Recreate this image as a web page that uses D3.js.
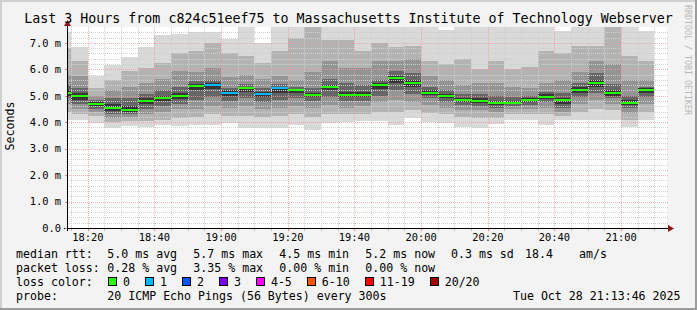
<!DOCTYPE html>
<html><head><meta charset="utf-8">
<script src="https://cdn.jsdelivr.net/npm/d3@7"></script>
<style>
html,body{margin:0;padding:0;background:#f3f3f3;}
svg{display:block;font-family:"DejaVu Sans Mono",monospace;}
</style></head>
<body><svg id="c" width="697" height="310"></svg>
<script>
// ---- data ----
const titleText = "Last 3 Hours from c824c51eef75 to Massachusetts Institute of Technology Webserver";
const startTime = "18:13:46", endTime = "21:13:46";
const barEnds = ["18:15","18:20","18:25","18:30","18:35","18:40","18:45","18:50","18:55","19:00",
  "19:05","19:10","19:15","19:20","19:25","19:30","19:35","19:40","19:45","19:50",
  "19:55","20:00","20:05","20:10","20:15","20:20","20:25","20:30","20:35","20:40",
  "20:45","20:50","20:55","21:00","21:05","21:10"];
// median rtt (ms)
const medians = [5.10,4.98,4.69,4.54,4.46,4.80,4.92,4.98,5.36,5.41,
  5.11,5.29,5.06,5.29,5.21,5.02,5.32,5.02,5.02,5.40,
  5.67,5.50,5.11,4.98,4.84,4.80,4.73,4.73,4.84,4.96,
  4.84,5.22,5.50,5.11,4.73,5.22];
// lost pings per step (of 20)
const losses = [0,0,0,0,0,0,0,0,0,1, 1,0,1,1,0,0,0,0,0,0, 0,0,0,0,0,0,0,0,0,0, 0,0,0,0,0,0];
// smoke: upper ping bounds, outer -> inner (ms)
const smokeHi = [
 [7.4,6.8,5.8,5.4,5.2],[6.86,6.3,5.75,5.3,5.1],[5.75,5.3,5.0,4.85,4.75],[6.15,5.6,5.2,4.9,4.7],
 [6.45,5.95,5.35,4.9,4.6],[6.85,6.05,5.5,5.05,4.9],[7.28,6.25,5.65,5.2,5.0],[7.35,6.6,5.95,5.35,5.1],
 [7.4,6.7,5.9,5.55,5.45],[7.4,7.0,6.05,5.6,5.5],[7.15,6.6,5.7,5.3,5.2],[7.6,6.5,5.8,5.45,5.35],
 [6.98,6.25,5.65,5.3,5.15],[7.6,6.7,5.75,5.45,5.35],[7.6,7.2,5.6,5.35,5.27],[7.9,7.7,5.9,5.3,5.12],
 [7.6,7.1,6.3,5.65,5.42],[7.6,7.1,6.05,5.5,5.15],[7.6,6.7,6.05,5.4,5.15],[7.6,7.0,6.3,5.6,5.48],
 [7.6,6.85,6.3,5.95,5.75],[7.6,6.9,6.4,5.85,5.6],[7.6,6.3,5.75,5.35,5.2],[7.5,6.2,5.6,5.2,5.07],
 [7.6,6.4,5.4,5.05,4.92],[7.6,6.0,5.5,5.05,4.9],[7.6,6.3,5.5,5.0,4.82],[7.6,6.0,5.35,4.95,4.82],
 [7.6,6.1,5.3,5.0,4.92],[7.6,6.7,5.5,5.15,5.05],[7.45,6.6,5.6,5.1,4.93],[7.6,6.9,5.9,5.5,5.32],
 [7.6,6.9,6.3,5.85,5.6],[7.9,7.7,6.2,5.45,5.22],[7.6,6.5,5.6,5.0,4.83],[7.45,6.3,5.6,5.35,5.28]];
// smoke: lower ping bounds, outer -> inner (ms)
const smokeLo = [
 [4.1,4.4,4.7,4.9,5.0],[4.1,4.3,4.5,4.7,4.85],[3.97,4.25,4.4,4.5,4.6],[3.8,4.0,4.15,4.3,4.42],
 [3.87,4.05,4.2,4.3,4.38],[3.83,4.05,4.3,4.5,4.68],[3.9,4.1,4.4,4.6,4.8],[3.87,4.15,4.5,4.7,4.88],
 [3.9,4.2,4.5,4.85,5.2],[3.9,4.3,4.6,4.95,5.25],[3.97,4.25,4.55,4.8,5.0],[3.8,4.25,4.6,4.9,5.15],
 [3.8,4.2,4.5,4.75,4.95],[3.8,4.25,4.55,4.85,5.1],[3.9,4.3,4.6,4.9,5.1],[3.72,4.2,4.55,4.8,4.95],
 [3.97,4.3,4.65,4.95,5.2],[4.0,4.3,4.55,4.8,4.95],[4.05,4.3,4.6,4.8,4.95],[4.05,4.4,4.75,5.0,5.25],
 [3.9,4.4,4.85,5.2,5.5],[4.15,4.45,4.75,5.05,5.35],[4.0,4.35,4.65,4.9,5.02],[3.97,4.3,4.55,4.75,4.9],
 [3.82,4.2,4.45,4.65,4.77],[3.77,4.15,4.45,4.62,4.73],[3.95,4.15,4.4,4.55,4.66],[4.1,4.3,4.5,4.6,4.68],
 [4.07,4.3,4.5,4.65,4.77],[3.9,4.3,4.55,4.75,4.88],[4.07,4.25,4.4,4.55,4.7],[4.1,4.4,4.7,4.95,5.1],
 [4.07,4.5,4.85,5.1,5.35],[4.1,4.45,4.7,4.9,5.0],[3.82,4.1,4.35,4.55,4.65],[4.07,4.4,4.7,4.95,5.12]];
const smokeColors = ["#d9d9d9","#b3b3b3","#949494","#666666","#363636"];
const yTickValues = [0,1,2,3,4,5,6,7];
const yTickLabels = ["0.0","1.0 m","2.0 m","3.0 m","4.0 m","5.0 m","6.0 m","7.0 m"];
const xTickLabels = ["18:20","18:40","19:00","19:20","19:40","20:00","20:20","20:40","21:00"];
const yMax = 7.6;
const lossLabels = ["0","1","2","3","4-5","6-10","11-19","20/20"];
const lossColors = ["#26ff00","#00b8ff","#0059ff","#7e00ff","#ff00ff","#ff5500","#ff0000","#a10000"];
const statRtt = ["median rtt:","5.0 ms avg","5.7 ms max","4.5 ms min","5.2 ms now","0.3 ms sd","18.4","am/s"];
const statLoss = ["packet loss:","0.28 % avg","3.35 % max","0.00 % min","0.00 % now"];
const probeText = ["probe:","20 ICMP Echo Pings (56 Bytes) every 300s"];
const stampText = "Tue Oct 28 21:13:46 2025";
const yLabel = "Seconds";
const sideText = "RRDTOOL / TOBI OETIKER";

// ---- drawing ----
const W=697,H=310, L=67, R=667, T=27, B=228;
const svg = d3.select("#c");
const parseHMS = d3.timeParse("%Y-%m-%d %H:%M:%S");
const parseHM = s => parseHMS("2025-10-28 " + (s.length===5 ? s+":00" : s));
const t0 = parseHM(startTime), t1 = parseHM(endTime);
const x = d3.scaleTime().domain([t0,t1]).range([L,R]);
const y = d3.scaleLinear().domain([0,yMax]).range([B,T]);

// frame
svg.append("rect").attr("x",0).attr("y",0).attr("width",W).attr("height",H).attr("fill","#f3f3f3");
svg.append("path").attr("d",`M0,${H} V0 H${W}`).attr("stroke","#d0d0d0").attr("stroke-width",4).attr("fill","none");
svg.append("path").attr("d",`M0,${H} H${W} V0`).attr("stroke","#9c9c9c").attr("stroke-width",4).attr("fill","none");

// plot background
svg.append("rect").attr("x",L).attr("y",T).attr("width",R-L).attr("height",B-T).attr("fill","#ffffff");

const defs = svg.append("defs");
defs.append("clipPath").attr("id","clip").append("rect").attr("x",L).attr("y",T).attr("width",R-L).attr("height",B-T);

const grid = svg.append("g").attr("shape-rendering","crispEdges");
// minor grid
const minorY = d3.range(1, Math.round(yMax/0.2)+1).map(i=>i*0.2).filter(v=>Math.abs(v-Math.round(v))>1e-6 && v<=yMax);
grid.selectAll(".hmin").data(minorY).join("line")
  .attr("x1",L).attr("x2",R+1).attr("y1",d=>Math.round(y(d))+0.5).attr("y2",d=>Math.round(y(d))+0.5)
  .attr("stroke","#cfcfcf").attr("stroke-dasharray","1,1");
const minorX = d3.timeMinute.every(5).range(t0,t1).filter(d=>d.getMinutes()%20!==0);
grid.selectAll(".vmin").data(minorX).join("line")
  .attr("x1",d=>Math.round(x(d))+0.5).attr("x2",d=>Math.round(x(d))+0.5).attr("y1",T).attr("y2",B)
  .attr("stroke","#cfcfcf").attr("stroke-dasharray","1,1");

// smoke
const plot = svg.append("g").attr("clip-path","url(#clip)").attr("shape-rendering","crispEdges");
const bars = barEnds.map((e,i)=>{
  const end = parseHM(e); const st = d3.timeMinute.offset(end,-5);
  return {i, x0: Math.max(x(st),L), x1: x(end), med: medians[i], loss: losses[i], hi: smokeHi[i], lo: smokeLo[i]};
});
smokeColors.forEach((col,k)=>{
  plot.selectAll(".s"+k).data(bars).join("rect")
    .attr("x",d=>Math.round(d.x0)).attr("width",d=>Math.round(d.x1)-Math.round(d.x0))
    .attr("y",d=>Math.round(y(d.hi[k]))).attr("height",d=>Math.round(y(d.lo[k]))-Math.round(y(d.hi[k])))
    .attr("fill",col);
});

// grid drawn over smoke, as rrdtool does
grid.raise();
const majorX = d3.timeMinute.every(20).range(t0,t1);
svg.append("g").attr("shape-rendering","crispEdges").selectAll("line").data(majorX).join("line")
  .attr("x1",d=>Math.round(x(d))+0.5).attr("x2",d=>Math.round(x(d))+0.5).attr("y1",T).attr("y2",B)
  .attr("stroke","#f29a9a").attr("stroke-opacity",0.8).attr("stroke-dasharray","1,1");
svg.append("g").attr("shape-rendering","crispEdges").selectAll("line").data(yTickValues.filter(v=>v>0)).join("line")
  .attr("x1",L).attr("x2",R+1).attr("y1",d=>Math.round(y(d))+0.5).attr("y2",d=>Math.round(y(d))+0.5)
  .attr("stroke","#f29a9a").attr("stroke-opacity",0.8).attr("stroke-dasharray","1,1");

// median lines
svg.append("g").attr("shape-rendering","crispEdges").selectAll("rect").data(bars).join("rect")
  .attr("x",d=>Math.round(d.x0)).attr("width",d=>Math.round(d.x1)-Math.round(d.x0))
  .attr("y",d=>Math.round(y(d.med))-1).attr("height",2)
  .attr("fill",d=>lossColors[Math.min(d.loss,lossColors.length-1)]);

// axes
const ax = svg.append("g").attr("shape-rendering","crispEdges");
ax.append("line").attr("x1",L+0.5).attr("x2",L+0.5).attr("y1",B+3).attr("y2",T-3).attr("stroke","#000");
ax.append("line").attr("x1",L-3).attr("x2",R+2).attr("y1",B+0.5).attr("y2",B+0.5).attr("stroke","#000");
svg.append("path").attr("d",`M${R+1},${B-3} L${R+7},${B+0.5} L${R+1},${B+4} Z`).attr("fill","#8b1a1a");
svg.append("path").attr("d",`M${L-3},${T-1} L${L+0.5},${T-7} L${L+4},${T-1} Z`).attr("fill","#8b1a1a");
// ticks
ax.selectAll(".xt").data(minorX).join("line")
  .attr("x1",d=>Math.round(x(d))+0.5).attr("x2",d=>Math.round(x(d))+0.5).attr("y1",B+1).attr("y2",B+3).attr("stroke","#bbbbbb");
ax.selectAll(".xT").data(majorX).join("line")
  .attr("x1",d=>Math.round(x(d))+0.5).attr("x2",d=>Math.round(x(d))+0.5).attr("y1",B+1).attr("y2",B+3).attr("stroke","#f08080");
ax.selectAll(".yT").data(yTickValues).join("line")
  .attr("x1",L-2).attr("x2",L).attr("y1",d=>Math.round(y(d))+0.5).attr("y2",d=>Math.round(y(d))+0.5).attr("stroke","#f08080");

// tick labels
const xLabelTimes = xTickLabels.map(parseHM);
svg.append("g").selectAll("text").data(xLabelTimes).join("text")
  .attr("x",d=>x(d)).attr("y",241).attr("text-anchor","middle")
  .attr("font-size","10.4px").attr("fill","#000").text((d,i)=>xTickLabels[i]);
svg.append("g").selectAll("text").data(yTickValues).join("text")
  .attr("x",61).attr("y",d=>y(d)+3.8).attr("text-anchor","end")
  .attr("font-size","10.4px").attr("fill","#000").text((d,i)=>yTickLabels[i]);

// title
svg.append("text").attr("x",348.5).attr("y",23.3).attr("text-anchor","middle")
  .attr("font-size","13.3px").attr("fill","#000").text(titleText);
// y label
svg.append("text").attr("transform","translate(14,126) rotate(-90)").attr("text-anchor","middle")
  .attr("font-size","11.6px").attr("fill","#000").text(yLabel);
// side watermark
svg.append("text").attr("transform","translate(685,5) rotate(90)").attr("text-anchor","start")
  .attr("font-size","8.3px").attr("fill","#b8b8b8").text(sideText);

// legend
const lg = svg.append("g").attr("font-size","11.6px").attr("fill","#000").attr("xml:space","preserve");
const colX = [16,107.3,193.3,279.3,365.3,451,525,579];
const rowY = [258.3,272.3,286.3,300.3];
lg.selectAll(".r1").data(statRtt).join("text").attr("x",(d,i)=>colX[i]).attr("y",rowY[0]).text(d=>d);
lg.selectAll(".r2").data(statLoss).join("text").attr("x",(d,i)=>colX[i]).attr("y",rowY[1]).text(d=>d);
lg.append("text").attr("x",colX[0]).attr("y",rowY[2]).text("loss color:");
const cw = 6.98;
let bx = 108;
const boxes = lossLabels.map((l,i)=>{ const o={l, c:lossColors[i], x:bx}; bx += 30 + cw*l.length; return o; });
lg.selectAll(".lb").data(boxes).join("rect").attr("x",d=>Math.round(d.x)+0.5).attr("y",277.5)
  .attr("width",8).attr("height",8).attr("fill",d=>d.c).attr("stroke","#000").attr("stroke-width",1);
lg.selectAll(".lt").data(boxes).join("text").attr("x",d=>d.x+15).attr("y",rowY[2]).text(d=>d.l);
lg.selectAll(".r4").data(probeText).join("text").attr("x",(d,i)=>colX[i]).attr("y",rowY[3]).text(d=>d);
lg.append("text").attr("x",680.5).attr("y",rowY[3]).attr("text-anchor","end").text(stampText);
</script></body></html>
